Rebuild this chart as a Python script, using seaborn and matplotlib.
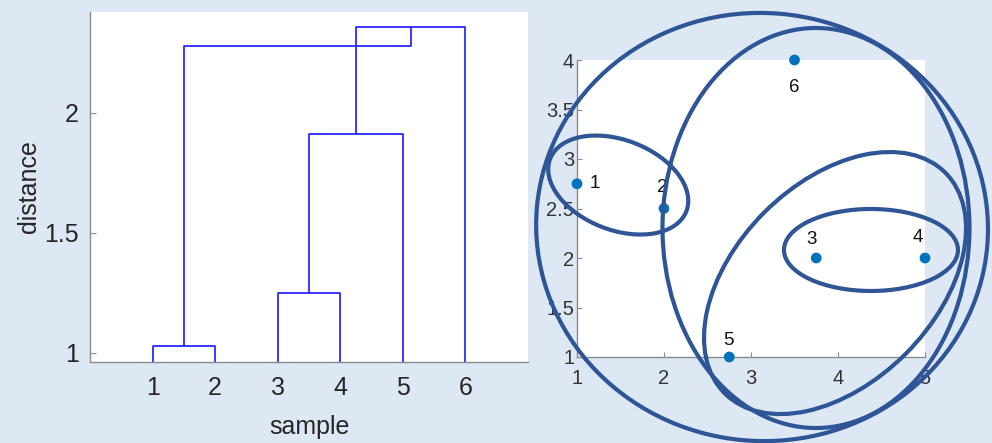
import matplotlib
matplotlib.use("Agg")
import matplotlib.pyplot as plt
from matplotlib.patches import Ellipse
from matplotlib.transforms import ScaledTranslation
import numpy as np
import pandas as pd
import seaborn as sns

# ---- dendrogram links (U-shapes: x and height of the four corners) ----
link_x = [
    [1.0, 1.0, 2.0, 2.0],
    [3.0, 3.0, 4.0, 4.0],
    [3.5, 3.5, 5.0, 5.0],
    [1.5, 1.5, 5.13, 5.13],
    [4.25, 4.25, 6.0, 6.0],
]
link_h = [
    [0.0, 1.03, 1.03, 0.0],
    [0.0, 1.25, 1.25, 0.0],
    [1.25, 1.91, 1.91, 0.0],
    [1.03, 2.28, 2.28, 2.357],
    [1.91, 2.357, 2.357, 0.0],
]
sample_ticks = [1, 2, 3, 4, 5, 6]
distance_ticks = [1.0, 1.5, 2.0]
distance_labels = ["1", "1.5", "2"]

# ---- sample coordinates ----
sample_ids = ["1", "2", "3", "4", "5", "6"]
sample_x = [1.0, 2.0, 3.75, 5.0, 2.75, 3.5]
sample_y = [2.75, 2.5, 2.0, 2.0, 1.0, 4.0]
scatter_xticks = [1, 2, 3, 4, 5]
scatter_yticks = [1.0, 1.5, 2.0, 2.5, 3.0, 3.5, 4.0]
scatter_ylabels = ["1", "1.5", "2", "2.5", "3", "3.5", "4"]

# label placement next to each point (offset in points)
label_dx = [13, -1.5, -3.5, -5, -0.7, 0]
label_dy = [0, 15, 13, 14.5, 12, -19.5]

# ---- hand-drawn cluster outlines: centre (data), size (inches), tilt (deg) ----
outline_cx = [1.474, 4.379, 3.966, 3.747, 3.127]
outline_cy = [2.737, 2.081, 1.747, 2.303, 2.313]
outline_w = [1.46, 1.74, 3.12, 3.07, 4.52]
outline_h = [0.90, 0.82, 2.00, 4.00, 4.28]
outline_angle = [-21, 0, 45, 0, -5]

BG = "#dde8f4"
SPINE = "#8a8a8a"
TXT = "#262626"

sns.set_style("white")
plt.rcParams["font.family"] = ["Liberation Sans", "DejaVu Sans"]

fig = plt.figure(figsize=(9.92, 4.43), dpi=100, facecolor=BG)

# ---------------- dendrogram ----------------
ax1 = fig.add_axes([90 / 992, 81 / 443, 438 / 992, 350 / 443])
rows = []
for i, (xs, hs) in enumerate(zip(link_x, link_h)):
    for k, (xv, hv) in enumerate(zip(xs, hs)):
        rows.append({"link": i, "order": k, "x": xv, "h": hv})
dendro = pd.DataFrame(rows)
sns.lineplot(data=dendro, x="x", y="h", units="link", estimator=None,
             sort=False, color="#2a2aff", linewidth=1.3, ax=ax1, legend=False)
ax1.set_xlim(0, 7)
ax1.set_ylim(0.9625, 2.42)
ax1.set_xticks(sample_ticks)
ax1.set_xticklabels([str(t) for t in sample_ticks])
ax1.set_yticks(distance_ticks)
ax1.set_yticklabels(distance_labels)
ax1.set_xlabel("sample", fontsize=18, color=TXT, labelpad=11)
ax1.set_ylabel("distance", fontsize=18, color=TXT, labelpad=2)
ax1.tick_params(axis="x", bottom=True, length=0, pad=10, labelsize=18, labelcolor=TXT)
ax1.tick_params(axis="y", left=True, direction="in", length=4, width=0.8, color=SPINE,
                pad=8, labelsize=18, labelcolor=TXT)
for side in ("top", "right"):
    ax1.spines[side].set_visible(False)
for side in ("left", "bottom"):
    ax1.spines[side].set_color(SPINE)
    ax1.spines[side].set_linewidth(1.0)
ax1.set_facecolor("white")

# ---------------- scatter of samples ----------------
ax2 = fig.add_axes([577 / 992, 86 / 443, 348 / 992, 297 / 443])
pts = pd.DataFrame({"x": sample_x, "y": sample_y, "id": sample_ids})
sns.scatterplot(data=pts, x="x", y="y", color="#0072BD", s=60,
                edgecolor="none", clip_on=False, zorder=3, ax=ax2)
for sid, xv, yv, dx, dy in zip(sample_ids, sample_x, sample_y, label_dx, label_dy):
    ax2.annotate(sid, (xv, yv), xytext=(dx, dy), textcoords="offset points",
                 ha="center", va="center", fontsize=13.5, color="#111111",
                 annotation_clip=False)
ax2.set_xlim(1, 5)
ax2.set_ylim(1, 4)
ax2.set_xticks(scatter_xticks)
ax2.set_xticklabels([str(t) for t in scatter_xticks])
ax2.set_yticks(scatter_yticks)
ax2.set_yticklabels(scatter_ylabels)
ax2.set_xlabel("")
ax2.set_ylabel("")
ax2.tick_params(bottom=True, left=True, direction="in", length=3.5, width=0.8,
                color=SPINE, labelsize=14.5, labelcolor="#333333")
ax2.tick_params(axis="x", pad=9)
ax2.tick_params(axis="y", pad=2)
for side in ("top", "right"):
    ax2.spines[side].set_visible(False)
for side in ("left", "bottom"):
    ax2.spines[side].set_color(SPINE)
    ax2.spines[side].set_linewidth(1.0)
ax2.set_facecolor("white")

# cluster outlines drawn over both panels
for cx, cy, w, h, ang in zip(outline_cx, outline_cy, outline_w, outline_h, outline_angle):
    e = Ellipse((0, 0), w, h, angle=ang, fill=False, edgecolor="#2F5597",
                linewidth=3.0,
                transform=fig.dpi_scale_trans + ScaledTranslation(cx, cy, ax2.transData))
    e.set_clip_on(False)
    e.set_zorder(5)
    fig.add_artist(e)

fig.savefig("out.png", dpi=100, facecolor=BG)
